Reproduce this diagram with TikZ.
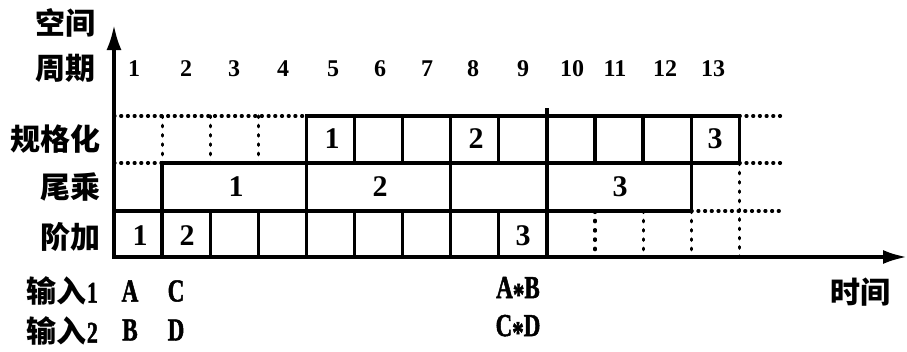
\documentclass[tikz,border=0pt]{standalone}
\usepackage{fontspec}
\usetikzlibrary{arrows.meta}
\newfontfamily\cjk{Noto Sans CJK SC}
\newfontfamily\latn{Liberation Serif}[FakeStretch=0.72, BoldFeatures={FakeBold=1.5}]
\newfontfamily\digs{Liberation Serif}
\begin{document}
\begin{tikzpicture}[x=1pt,y=-1pt,
  ln/.style={line width=3.3pt, line cap=rect},
  hdot/.style={line width=3.2pt, line cap=round, dash pattern=on 1pt off 5.7pt},
  vdot/.style={line width=3.2pt, line cap=round, dash pattern=on 1.5pt off 7.8pt},
  axis/.style={line width=3.4pt},
  cjklab/.style={font=\cjk\bfseries\fontsize{30}{32}\selectfont, inner sep=0pt, anchor=east},
  toplab/.style={font=\digs\bfseries\fontsize{24}{26}\selectfont, inner sep=0pt},
  celllab/.style={font=\digs\bfseries\fontsize{30}{32}\selectfont, inner sep=0pt},
  inlab/.style={font=\latn\bfseries\fontsize{32}{34}\selectfont, inner sep=0pt}]
\useasboundingbox (0,0) rectangle (907,351);
\def\ya{116}\def\yb{163}\def\yc{211}\def\yd{257}\def\xr{782}
% dotted parts
\draw[hdot] (114,\ya) -- (306.4,\ya);
\draw[hdot] (114,\yb) -- (162.1,\yb);
\foreach \x in {162.1,210.2,258.3} \draw[vdot] (\x,\ya) -- (\x,\yb);
\draw[hdot] (739.3,\ya) -- (\xr,\ya);
\draw[hdot] (739.3,\yb) -- (\xr,\yb);
\draw[hdot] (691.2,\yc) -- (\xr,\yc);
\draw[vdot] (739.3,\yb) -- (739.3,\yd);
\foreach \x in {595,643.1,691.2} \draw[vdot] (\x,\yc) -- (\x,\yd);
% normalisation row
\draw[ln] (306.4,\ya) rectangle (739.3,\yb);
\foreach \x in {354.5,402.6,450.7,498.8,546.9,595,643.1,691.2} \draw[ln] (\x,\ya) -- (\x,\yb);
\draw[ln] (546.9,\ya) -- (546.9,110);
% multiply row
\draw[ln] (114,\yc) -- (162.1,\yc);
\draw[ln] (162.1,\yb) rectangle (691.2,\yc);
\foreach \x in {306.4,450.7,546.9} \draw[ln] (\x,\yb) -- (\x,\yc);
% add row
\draw[ln] (114,\yc) rectangle (546.9,\yd);
\foreach \x in {162.1,210.2,258.3,306.4,354.5,402.6,450.7,498.8} \draw[ln] (\x,\yc) -- (\x,\yd);
% axes
\coordinate (O) at (114,258.7);
\coordinate (Ytip) at (114,25);
\coordinate (Xstart) at (112.3,\yd);
\coordinate (Xtip) at (907,\yd);
\draw[axis,-{Latex[length=25pt,width=15pt]}] (O) -- (Ytip);
\draw[axis,-{Latex[length=24pt,width=14pt]}] (Xstart) -- (Xtip);
% left labels
\node[cjklab] (kj) at (96,23) {空间};
\node[cjklab] (zq) at (96,68) {周期};
\node[cjklab] (gg) at (101,139) {规格化};
\node[cjklab] (wc) at (101,187) {尾乘};
\node[cjklab] (jj) at (101,237) {阶加};
\node[cjklab] (in1) at (98,291) {输入{\latn 1}};
\node[cjklab] (in2) at (98,331) {输入{\latn 2}};
\node[cjklab,anchor=center] (sj) at (860,292) {时间};
% cycle numbers
\foreach \n/\x in {1/134,2/186,3/234,4/283,5/333,6/380,7/427,8/473,9/523,10/572,11/615,12/665,13/713}
  \node[toplab] (t\n) at (\x,69) {\n};
% cell numbers
\node[celllab] (g1) at (332,139) {1};
\node[celllab] (g2) at (476,139) {2};
\node[celllab] (g3) at (715,139) {3};
\node[celllab] (w1) at (236,187) {1};
\node[celllab] (w2) at (380,187) {2};
\node[celllab] (w3) at (620,187) {3};
\node[celllab] (j1) at (140,236) {1};
\node[celllab] (j2) at (187,236) {2};
\node[celllab] (j3) at (523,236) {3};
% inputs
\node[inlab] (a) at (130,291) {A};
\node[inlab] (c) at (176,291) {C};
\node[inlab] (b) at (130,330) {B};
\node[inlab] (d) at (176,330) {D};
\node[inlab] (ab) at (518,291) {A\raisebox{-0.22em}{*}B};
\node[inlab] (cd) at (518,329) {C\raisebox{-0.22em}{*}D};
\end{tikzpicture}
\end{document}
